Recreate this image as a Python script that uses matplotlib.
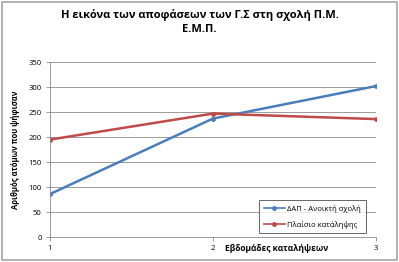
import matplotlib
matplotlib.use('Agg')
import matplotlib.pyplot as plt
from matplotlib.patches import Rectangle

plt.rcParams['font.family'] = ['Open Sans', 'DejaVu Sans']

weeks = [1, 2, 3]
dap = [86, 237, 302]
plaisio = [195, 247, 236]
yticks = [0, 50, 100, 150, 200, 250, 300, 350]

title = 'Η εικόνα των αποφάσεων των Γ.Σ στη σχολή Π.Μ.\nΕ.Μ.Π.'

fig = plt.figure(figsize=(3.99, 2.62), dpi=100)
ax = fig.add_axes([0.125, 0.095, 0.817, 0.668])

# outer chart frame
fig.patches.append(Rectangle((0.004, 0.006), 0.99, 0.988, transform=fig.transFigure,
                             fill=False, edgecolor='#a6a6a6', linewidth=1.2))

ax.plot(weeks, dap, color='#4a7ebb', linewidth=1.8, marker='o', markersize=2.5,
        label='ΔΑΠ - Ανοικτή σχολή')
ax.plot(weeks, plaisio, color='#be4b48', linewidth=1.8, marker='o', markersize=2.5,
        label='Πλαίσιο κατάληψης')

ax.set_xlim(1, 3)
ax.set_ylim(0, 350)
ax.set_xticks(weeks)
ax.set_yticks(yticks)
ax.grid(axis='y', color='#8c8c8c', linewidth=0.6)
ax.set_axisbelow(True)
ax.tick_params(labelsize=5.5, length=3, width=0.6, color='#8c8c8c', pad=3)
for s in ['top', 'right']:
    ax.spines[s].set_visible(False)
for s in ['left', 'bottom']:
    ax.spines[s].set_color('#8c8c8c')
    ax.spines[s].set_linewidth(0.6)

ax.set_ylabel('Αριθμός ατόμων που ψήφισαν', fontsize=5.5, fontweight='bold', labelpad=6)
fig.text(0.564, 0.052, 'Εβδομάδες καταλήψεων', fontsize=6, fontweight='bold',
         ha='left', va='center')

fig.suptitle(title, x=0.5, y=0.965, fontsize=8, fontweight='bold', linespacing=1.3)

leg = ax.legend(loc='lower right', bbox_to_anchor=(0.98, 0.0), fontsize=5.5,
                frameon=True, fancybox=False, handlelength=2.8, borderpad=0.6,
                labelspacing=1.0, handletextpad=0.3)
leg.get_frame().set_edgecolor('#404040')
leg.get_frame().set_linewidth(0.7)
for line in leg.get_lines():
    line.set_linewidth(1.2)

fig.savefig('out.png', dpi=100)
plt.close('all')
